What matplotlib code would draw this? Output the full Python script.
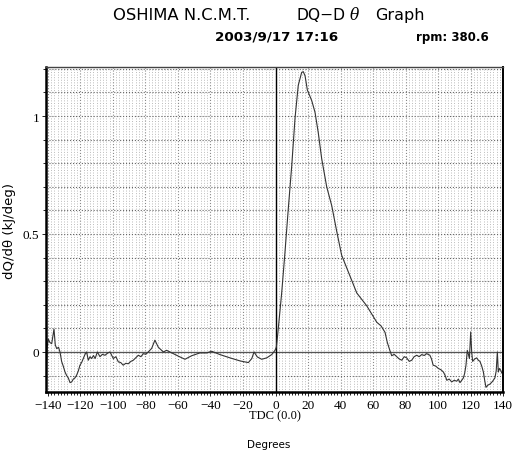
import numpy as np
import matplotlib
matplotlib.use("Agg")
import matplotlib.pyplot as plt
from matplotlib.ticker import MultipleLocator

# crank angle (deg) and heat release rate dQ/dtheta (kJ/deg)
deg = [-141, -140.5, -139.8, -138.8, -137.7, -136.3, -135.5, -134.6, -133.5, -132.6,
       -131.6, -130.6, -129.5, -128.5, -127.5, -126.4, -125.4, -124.4, -123.4, -122.4,
       -121.3, -120.3, -119.3, -118.3, -117.2, -116.2, -115.2, -114.1, -113.1, -112,
       -111, -109.6, -108, -106.5, -104.9, -103.3, -101.8, -99.8, -98.2, -96.7,
       -95.2, -93.7, -92.1, -90.6, -89, -87.5, -86, -84.4, -82.8, -81.3,
       -79.8, -78.3, -76.2, -74.2, -72.1, -69, -67, -62.9, -58.8, -55.7,
       -51.6, -46.5, -42.3, -39.3, -34.2, -28, -21.8, -16.7, -14.6, -13.2,
       -11.2, -8.5, -5.4, -2.3, -0.3, 0.5, 1.3, 3.8, 5.8, 7.9,
       10, 12, 14, 16.1, 17.1, 18.2, 19.6, 22.3, 24.3, 26.3,
       28.4, 31.5, 34.6, 37.7, 40.7, 44.8, 50, 56.1, 62.3, 65,
       67.4, 68.8, 70.2, 71.5, 73, 74.6, 76.2, 77.7, 79.2, 80.7,
       82.3, 83.8, 85.3, 86.9, 88.4, 90, 91.5, 93, 95, 96,
       97, 98.6, 100.2, 101.7, 103.3, 104.4, 105.4, 106.9, 108.4, 110,
       111.5, 112.5, 113.5, 114.6, 115.6, 116.4, 117.2, 118, 118.7, 119.3,
       120.1, 120.7, 121.3, 122.5, 123.8, 124.8, 125.8, 126.9, 127.9, 128.7,
       129.5, 130.8, 132, 133.5, 135, 135.8, 136.5, 137.1, 137.8, 138.6,
       139.3, 140]
dqdt = [-0.07, 0.02, 0.055, 0.04, 0.035, 0.097, 0.03, 0.014, 0.02, 0.0,
        -0.04, -0.06, -0.085, -0.1, -0.11, -0.13, -0.127, -0.115, -0.11, -0.099,
        -0.08, -0.056, -0.045, -0.028, -0.01, 0.0, -0.035, -0.02, -0.028, -0.015,
        -0.028, 0.0, -0.02, -0.01, -0.014, -0.005, 0.0, -0.028, -0.02, -0.042,
        -0.045, -0.056, -0.048, -0.05, -0.04, -0.035, -0.025, -0.014, -0.02, -0.007,
        -0.01, 0.0, 0.015, 0.05, 0.02, 0.0, 0.007, -0.007, -0.021, -0.031,
        -0.016, -0.004, -0.004, 0.003, -0.011, -0.025, -0.038, -0.045, -0.028, 0.0,
        -0.021, -0.031, -0.025, -0.011, 0.007, 0.02, 0.07, 0.25, 0.42, 0.61,
        0.79, 0.99, 1.13, 1.185, 1.188, 1.17, 1.11, 1.065, 1.016, 0.93,
        0.82, 0.70, 0.62, 0.51, 0.41, 0.34, 0.25, 0.196, 0.126, 0.11,
        0.083, 0.04, 0.01, -0.016, -0.01, -0.02, -0.03, -0.035, -0.02, -0.025,
        -0.04, -0.035, -0.02, -0.014, -0.02, -0.011, -0.015, -0.007, -0.014, -0.03,
        -0.056, -0.06, -0.07, -0.075, -0.085, -0.1, -0.12, -0.115, -0.127, -0.12,
        -0.124, -0.115, -0.13, -0.12, -0.11, -0.09, -0.056, 0.007, -0.01, -0.028,
        0.085, 0.0, -0.04, -0.03, -0.025, -0.035, -0.04, -0.06, -0.085, -0.12,
        -0.15, -0.14, -0.136, -0.125, -0.11, -0.08, 0.0, -0.085, -0.07, -0.078,
        -0.09, -0.085]

x_ticks = [-140, -120, -100, -80, -60, -40, -20, 0, 20, 40, 60, 80, 100, 120, 140]
y_ticks = [0, 0.5, 1]
y_tick_labels = ["0", "0.5", "1"]

fig = plt.figure(figsize=(5.17, 4.56), dpi=100)
ax = fig.add_axes([0.089, 0.138, 0.884, 0.713])

ax.set_xlim(-141.2, 140)
ax.set_ylim(-0.17, 1.208)

# dense dotted grid like the original printout
ax.xaxis.set_minor_locator(MultipleLocator(2))
ax.yaxis.set_minor_locator(MultipleLocator(0.1))
ax.grid(which="minor", axis="x", color="#bbbbbb", linestyle=":", linewidth=0.7)
ax.grid(which="major", axis="x", color="#888888", linestyle=":", linewidth=0.8)
ax.grid(which="minor", axis="y", color="#666666", linestyle=":", linewidth=0.8)
ax.grid(which="major", axis="y", color="#666666", linestyle=":", linewidth=0.8)

ax.axhline(0, color="#555555", linewidth=0.9)
ax.axvline(0, color="black", linewidth=1.0)

ax.plot(deg, dqdt, color="#333333", linewidth=0.8)

ax.set_xticks(x_ticks)
ax.set_xticklabels([str(t).replace("-", "\u2212") for t in x_ticks],
                   family="Liberation Serif", fontsize=9.5)
ax.set_yticks(y_ticks)
ax.set_yticklabels(y_tick_labels, family="Liberation Serif", fontsize=9.5)
ax.tick_params(which="both", direction="out", length=3, width=0.6, pad=2)
ax.tick_params(which="minor", length=2)

for side in ["left", "bottom"]:
    ax.spines[side].set_linewidth(1.8)
ax.spines["right"].set_linewidth(1.4)
ax.spines["top"].set_linewidth(1.0)
ax.spines["top"].set_color("#444444")

ax.set_ylabel("dQ/dθ (kJ/deg)", family="DejaVu Sans", fontsize=9.5, labelpad=5)
ax.set_xlabel("TDC (0.0)", family="Liberation Serif", fontsize=9, labelpad=-1)

# title pieces placed where they sit in the original
fig.text(113 / 517, 0.965, "OSHIMA N.C.M.T.", family="DejaVu Sans",
         fontsize=11.8, ha="left", va="center")
fig.text(297 / 517, 0.965, "DQ\u2212D", family="DejaVu Sans",
         fontsize=11.2, ha="left", va="center")
fig.text(350 / 517, 0.965, "θ", family="DejaVu Serif", style="italic",
         fontsize=11.2, ha="left", va="center")
fig.text(375 / 517, 0.965, "Graph", family="DejaVu Sans",
         fontsize=11.5, ha="left", va="center")
fig.text(277 / 517, 0.918, "2003/9/17 17:16", family="DejaVu Sans",
         fontsize=9.7, weight="bold", ha="center", va="center")
fig.text(452 / 517, 0.918, "rpm: 380.6", family="DejaVu Sans",
         fontsize=8.5, weight="bold", ha="center", va="center")
fig.text(269 / 517, 0.013, "Degrees", family="DejaVu Sans", fontsize=7.5,
         ha="center", va="bottom")

fig.savefig("out.png", dpi=100)
